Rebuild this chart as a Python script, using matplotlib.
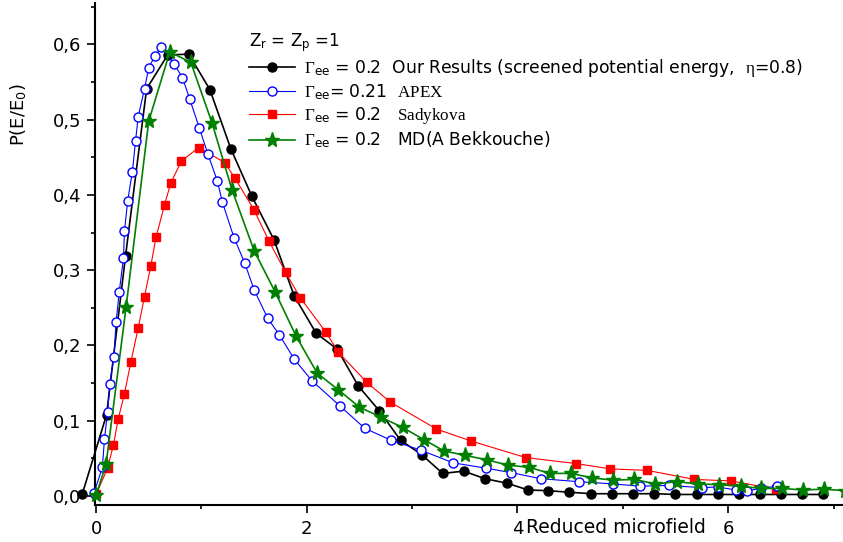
import matplotlib
matplotlib.use("Agg")
import matplotlib.pyplot as plt
import matplotlib.ticker as mticker
import numpy as np

plt.rcParams.update({
    "font.family": "DejaVu Sans",
    "mathtext.fontset": "custom",
    "mathtext.rm": "Liberation Serif",
    "mathtext.it": "Liberation Serif:italic",
    "mathtext.sf": "DejaVu Sans",
    "font.size": 13,
    "axes.linewidth": 1.5,
})

# ── Données ───────────────────────────────────────────────────────────────────

# Gamma_ee = 0.2, nos résultats (énergie potentielle écrantée, eta = 0.8)
our_x = [-0.13, 0.10, 0.28, 0.48, 0.68, 0.88, 1.08, 1.28, 1.48, 1.69, 1.88,
         2.09, 2.29, 2.49, 2.69, 2.89, 3.09, 3.29, 3.49, 3.69, 3.90, 4.10,
         4.29, 4.49, 4.70, 4.90, 5.10, 5.30, 5.50, 5.70, 5.90, 6.10, 6.30,
         6.50, 6.70, 6.90]
our_y = [0.003, 0.108, 0.319, 0.541, 0.586, 0.587, 0.540, 0.461, 0.398, 0.340,
         0.266, 0.216, 0.195, 0.146, 0.113, 0.074, 0.055, 0.030, 0.033, 0.023,
         0.017, 0.008, 0.007, 0.005, 0.003, 0.003, 0.003, 0.003, 0.002, 0.002,
         0.002, 0.002, 0.002, 0.002, 0.002, 0.002]

# Gamma_ee = 0.21, APEX
apex_x = [-0.02, 0.06, 0.08, 0.11, 0.13, 0.17, 0.19, 0.22, 0.26, 0.27, 0.30,
          0.345, 0.375, 0.40, 0.46, 0.50, 0.56, 0.62, 0.74, 0.82, 0.89, 0.98,
          1.06, 1.15, 1.20, 1.31, 1.41, 1.50, 1.63, 1.74, 1.88, 2.05, 2.32,
          2.55, 2.80, 3.08, 3.39, 3.70, 3.94, 4.22, 4.58, 4.91, 5.16, 5.44,
          5.75, 5.90, 6.07, 6.18, 6.31, 6.46]
apex_y = [0.004, 0.038, 0.076, 0.112, 0.149, 0.185, 0.231, 0.271, 0.316, 0.352,
          0.392, 0.431, 0.472, 0.504, 0.541, 0.569, 0.585, 0.596, 0.574, 0.556,
          0.527, 0.489, 0.455, 0.419, 0.390, 0.343, 0.310, 0.274, 0.236, 0.214,
          0.182, 0.153, 0.119, 0.090, 0.074, 0.061, 0.044, 0.037, 0.031, 0.023,
          0.019, 0.016, 0.013, 0.014, 0.011, 0.012, 0.008, 0.007, 0.010, 0.013]

# Gamma_ee = 0.2, Sadykova
sady_x = [0.00, 0.11, 0.165, 0.21, 0.27, 0.33, 0.40, 0.46, 0.52, 0.57, 0.65,
          0.71, 0.81, 0.975, 1.22, 1.32, 1.50, 1.64, 1.80, 1.94, 2.18, 2.30,
          2.57, 2.79, 3.23, 3.56, 4.08, 4.56, 4.88, 5.23, 5.68, 6.03, 6.45]
sady_y = [0.002, 0.037, 0.068, 0.102, 0.136, 0.178, 0.223, 0.265, 0.306, 0.344,
          0.387, 0.416, 0.445, 0.463, 0.443, 0.422, 0.380, 0.339, 0.297, 0.263,
          0.218, 0.191, 0.151, 0.125, 0.089, 0.073, 0.051, 0.043, 0.036, 0.034,
          0.022, 0.020, 0.009]

# Gamma_ee = 0.2, MD (A Bekkouche)
md_x = [0.00, 0.095, 0.285, 0.50, 0.70, 0.90, 1.10, 1.29, 1.50, 1.70, 1.90,
        2.10, 2.30, 2.50, 2.70, 2.91, 3.11, 3.30, 3.50, 3.71, 3.91, 4.11,
        4.31, 4.51, 4.71, 4.91, 5.11, 5.31, 5.51, 5.71, 5.91, 6.12, 6.31,
        6.51, 6.71, 6.91, 7.11]
md_y = [0.001, 0.042, 0.251, 0.498, 0.590, 0.576, 0.496, 0.407, 0.326, 0.271,
        0.212, 0.163, 0.141, 0.118, 0.105, 0.091, 0.075, 0.060, 0.054, 0.048,
        0.041, 0.038, 0.030, 0.030, 0.024, 0.021, 0.022, 0.016, 0.019, 0.016,
        0.015, 0.013, 0.010, 0.010, 0.008, 0.009, 0.007]

# ── Figure ────────────────────────────────────────────────────────────────────

fig = plt.figure(figsize=(8.43, 5.42), dpi=100)
ax = fig.add_axes([95 / 843, 37 / 542, 748 / 843, 502 / 542])

G = r"$\mathrm{\Gamma}_{\mathsf{ee}}$"
ax.plot(our_x, our_y, color="black", lw=1.2, marker="o", ms=6.5,
        mfc="black", mec="black", clip_on=False, zorder=3,
        label=G + r" = 0.2  Our Results (screened potential energy,  $\mathrm{\eta}$=0.8)")
ax.plot(sady_x, sady_y, color="#FF0000", lw=0.8, marker="s", ms=5.8,
        mfc="#FF0000", mec="#FF0000", clip_on=False, zorder=4,
        label=G + r" = 0.2   $\mathrm{Sadykova}$")
ax.plot(apex_x, apex_y, color="#0000FF", lw=0.8, marker="o", ms=6.5,
        mfc="white", mec="#0000FF", mew=1.0, clip_on=False, zorder=5,
        label=G + r"= 0.21  $\mathrm{APEX}$")
ax.plot(md_x, md_y, color="#008000", lw=1.2, marker="*", ms=11,
        mfc="#008000", mec="#008000", clip_on=False, zorder=6,
        label=G + r" = 0.2   MD(A Bekkouche)")

ax.set_xlim(-0.01, 7.09)
ax.set_ylim(-0.012, 0.655)

ax.spines["top"].set_visible(False)
ax.spines["right"].set_visible(False)

ax.xaxis.set_major_locator(mticker.MultipleLocator(2))
ax.xaxis.set_minor_locator(mticker.MultipleLocator(1))
ax.yaxis.set_major_locator(mticker.MultipleLocator(0.1))
ax.yaxis.set_minor_locator(mticker.MultipleLocator(0.05))
ax.yaxis.set_major_formatter(mticker.FuncFormatter(lambda v, p: f"{v:.1f}".replace(".", ",")))
ax.xaxis.set_major_formatter(mticker.FuncFormatter(lambda v, p: f"{v:.0f}"))
ax.tick_params(which="major", direction="out", length=6, width=1.2, labelsize=13, pad=4)
ax.tick_params(which="minor", direction="out", length=3, width=1.2)
ax.tick_params(axis="x", pad=5)

ax.text(4.08, -0.044, "Reduced microfield", transform=ax.get_xaxis_transform(),
        ha="left", va="center", fontsize=13.5)
fig.text(0.022, 1 - 115 / 542, r"P(E/E$_{\mathsf{0}}$)", rotation=90, ha="center",
         va="center", fontsize=13)

# ordre de la légende comme sur la figure
h, l = ax.get_legend_handles_labels()
order = [0, 2, 1, 3]
leg = ax.legend([h[i] for i in order], [l[i] for i in order],
                title=r"Z$_{\mathsf{r}}$ = Z$_{\mathsf{p}}$ =1", title_fontsize=12,
                fontsize=12.3, loc="upper left",
                bbox_to_anchor=(249 / 843, 1 - 31 / 542),
                bbox_transform=fig.transFigure, frameon=False, numpoints=1,
                handlelength=2.7, handletextpad=0.5, labelspacing=0.2,
                borderpad=0, borderaxespad=0)
leg._legend_box.align = "left"

fig.savefig("out.png", dpi=100)
